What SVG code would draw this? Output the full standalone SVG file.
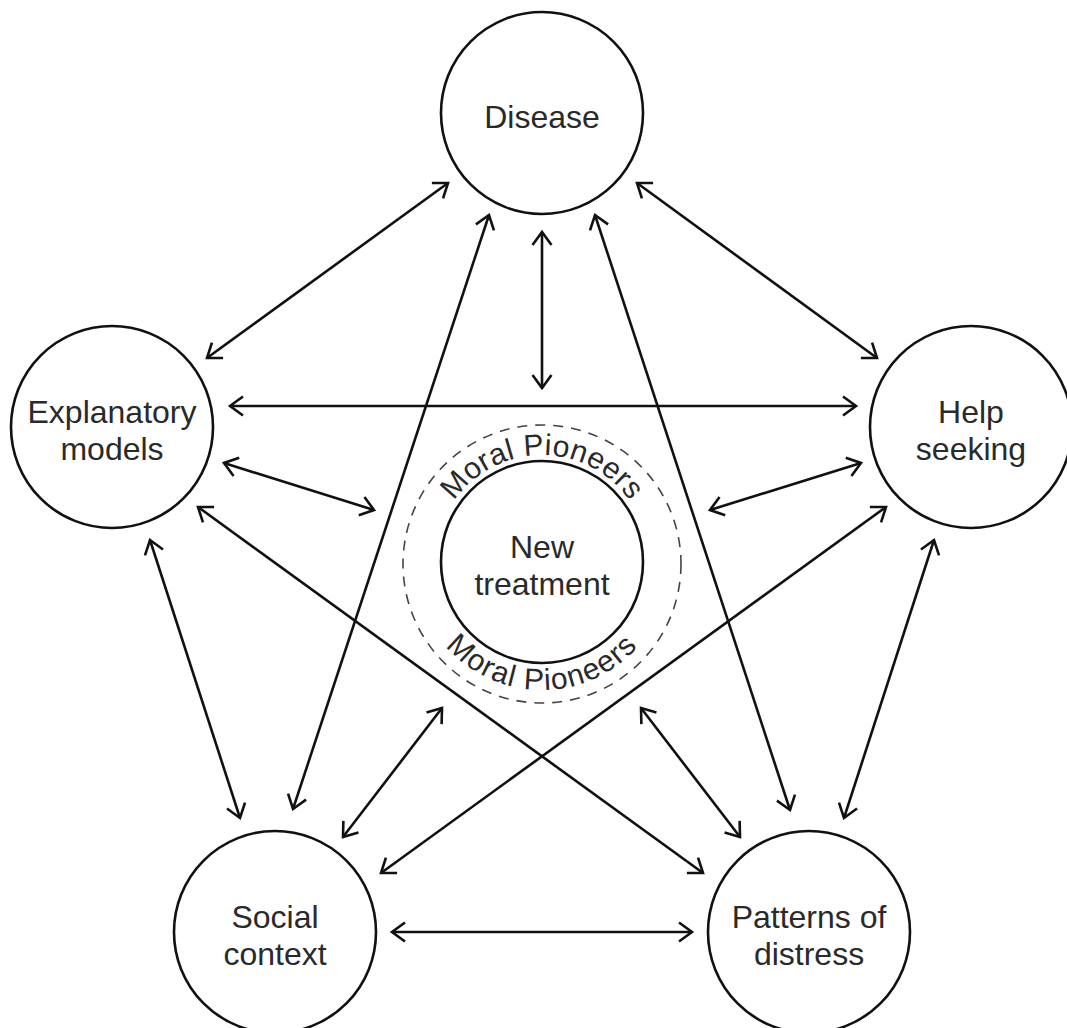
<svg xmlns="http://www.w3.org/2000/svg" width="1067" height="1028" viewBox="0 0 1067 1028">
<style>
.node{fill:#fff;stroke:#111;stroke-width:2.6}
.lbl{font-family:"Liberation Sans",Arial,sans-serif;font-size:32px;fill:#2a2a2a;text-anchor:middle}
.arc{font-family:"Liberation Sans",Arial,sans-serif;font-size:30px;fill:#2a2a2a;text-anchor:middle}
.con line{stroke:#111;stroke-width:2.6;fill:none;marker-start:url(#ah);marker-end:url(#ah)}
</style>
<defs>
<marker id="ah" viewBox="-16 -12 19 24" refX="0" refY="0" markerWidth="19" markerHeight="24" markerUnits="userSpaceOnUse" orient="auto-start-reverse" overflow="visible">
<path d="M-13,-9.5 L0,0 L-13,9.5" fill="none" stroke="#111" stroke-width="2.6"/>
</marker>
<path id="topArc" d="M435,562 A107,107 0 0 1 649,562"/>
<path id="botArc" d="M414,562 A128,128 0 0 0 670,562"/>
</defs>
<rect width="1067" height="1028" fill="#fff"/>
<g class="con">
<line x1="448" y1="183" x2="207" y2="358"/>
<line x1="637" y1="183" x2="877" y2="358"/>
<line x1="542" y1="232" x2="542" y2="388"/>
<line x1="230" y1="406" x2="856" y2="406"/>
<line x1="224" y1="463" x2="374" y2="510"/>
<line x1="861" y1="463" x2="710" y2="510"/>
<line x1="150" y1="540" x2="240" y2="818"/>
<line x1="934" y1="540" x2="844" y2="818"/>
<line x1="198" y1="507" x2="703" y2="873"/>
<line x1="886" y1="507" x2="381" y2="873"/>
<line x1="489" y1="215" x2="293" y2="809"/>
<line x1="595" y1="215" x2="790" y2="810"/>
<line x1="442" y1="708" x2="343" y2="837"/>
<line x1="641" y1="708" x2="740" y2="837"/>
<line x1="392" y1="932" x2="692" y2="932"/>
</g>
<g id="disease">
<circle class="node" cx="542" cy="113" r="101"/>
<text class="lbl" x="542" y="128">Disease</text>
</g>
<g id="explanatory">
<circle class="node" cx="112" cy="427" r="101"/>
<text class="lbl" x="112" y="423">Explanatory</text>
<text class="lbl" x="112" y="460">models</text>
</g>
<g id="help">
<circle class="node" cx="971" cy="427" r="101"/>
<text class="lbl" x="971" y="423">Help</text>
<text class="lbl" x="971" y="460">seeking</text>
</g>
<g id="social">
<circle class="node" cx="275" cy="932" r="101"/>
<text class="lbl" x="275" y="928">Social</text>
<text class="lbl" x="275" y="965">context</text>
</g>
<g id="patterns">
<circle class="node" cx="809" cy="932" r="101"/>
<text class="lbl" x="809" y="928">Patterns of</text>
<text class="lbl" x="809" y="965">distress</text>
</g>
<g id="center">
<circle cx="542" cy="564" r="139" fill="none" stroke="#444" stroke-width="1.6" stroke-dasharray="10 8"/>
<circle class="node" cx="542" cy="562" r="101"/>
<text class="lbl" x="542" y="558">New</text>
<text class="lbl" x="542" y="595">treatment</text>
<text class="arc" letter-spacing="0.3"><textPath href="#topArc" startOffset="50%">Moral Pioneers</textPath></text>
<text class="arc" letter-spacing="1.2"><textPath href="#botArc" startOffset="50%">Moral Pioneers</textPath></text>
</g>
</svg>
